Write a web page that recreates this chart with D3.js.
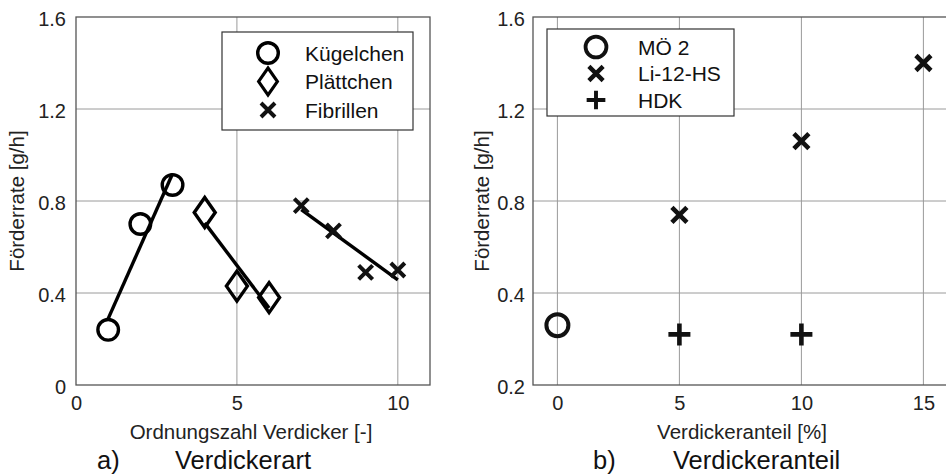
<!DOCTYPE html>
<html>
<head>
<meta charset="utf-8">
<script src="https://cdn.jsdelivr.net/npm/d3@7"></script>
<style>
  body { margin: 0; background: #fff; }
  svg { display: block; font-family: "Liberation Sans", Arial, sans-serif; }
</style>
</head>
<body>
<svg id="chart" width="946" height="474"></svg>
<script>
// Panel a): delivery rate by thickener type
const typeNames = ["Kügelchen", "Plättchen", "Fibrillen"];
const kugelX = [1, 2, 3];
const kugelY = [0.24, 0.70, 0.87];
const plattX = [4, 5, 6];
const plattY = [0.75, 0.43, 0.38];
const fibX = [7, 8, 9, 10];
const fibY = [0.78, 0.67, 0.49, 0.50];
const aXTicks = [0, 5, 10];
const aYTicks = [0, 0.4, 0.8, 1.2, 1.6];

// Panel b): delivery rate by thickener content
const greaseNames = ["MÖ 2", "Li-12-HS", "HDK"];
const moX = [0];
const moY = [0.33];
const liX = [5, 10, 15];
const liY = [0.74, 1.06, 1.40];
const hdkX = [5, 10];
const hdkY = [0.31, 0.31];
const bXTicks = [0, 5, 10, 15];
const bYTicks = [0.2, 0.4, 0.8, 1.2, 1.6];

const svg = d3.select("#chart");
const zip = (xs, ys) => xs.map((x, i) => ({ x, y: ys[i] }));
const FONT = "Liberation Sans, Arial, sans-serif";

// marker outlines, centred on the origin
const markers = {
  circle: g => g.append("circle").attr("r", 10.3).attr("fill", "none").attr("stroke", "#000").attr("stroke-width", 3.4),
  circleB: g => g.append("circle").attr("r", 11).attr("fill", "none").attr("stroke", "#111").attr("stroke-width", 4),
  diamond: g => g.append("path").attr("d", "M0,-15L10.5,0L0,15L-10.5,0Z").attr("fill", "none").attr("stroke", "#000").attr("stroke-width", 3.4).attr("stroke-linejoin", "miter"),
  cross: g => g.append("path").attr("d", "M-7,-7L7,7M-7,7L7,-7").attr("stroke", "#111").attr("stroke-width", 4),
  crossB: g => g.append("path").attr("d", "M-7.5,-7.5L7.5,7.5M-7.5,7.5L7.5,-7.5").attr("stroke", "#111").attr("stroke-width", 4.6),
  plus: g => g.append("path").attr("d", "M-11,0L11,0M0,-11L0,11").attr("stroke", "#111").attr("stroke-width", 4.6)
};

function fitLine(pts) {
  const mx = d3.mean(pts, d => d.x), my = d3.mean(pts, d => d.y);
  const b = d3.sum(pts, d => (d.x - mx) * (d.y - my)) / d3.sum(pts, d => (d.x - mx) ** 2);
  const a = my - b * mx;
  const [x0, x1] = d3.extent(pts, d => d.x);
  return [{ x: x0, y: a + b * x0 }, { x: x1, y: a + b * x1 }];
}

function panel(opt) {
  const { x, y, xTicks, yTicks } = opt;
  const g = svg.append("g");
  const [x0, x1] = x.range();
  const [y0, y1] = [y(y.domain()[0]), y(y.domain()[y.domain().length - 1])];
  const clipId = "clip" + opt.id;
  svg.append("clipPath").attr("id", clipId)
    .append("rect").attr("x", x0).attr("y", y1 - 20).attr("width", x1 - x0).attr("height", y0 - y1 + 20);

  // grid
  const grid = g.append("g").attr("stroke", "#9a9a9a").attr("stroke-width", 1);
  grid.selectAll(".gx").data(xTicks.filter(t => x(t) > x0 + 1 && x(t) < x1 - 1)).join("line")
    .attr("x1", d => x(d)).attr("x2", d => x(d)).attr("y1", y0).attr("y2", y1);
  grid.selectAll(".gy").data(yTicks.filter(t => y(t) < y0 - 1 && y(t) > y1 + 1)).join("line")
    .attr("x1", x0).attr("x2", x1).attr("y1", d => y(d)).attr("y2", d => y(d));

  // frame
  g.append("rect").attr("x", x0).attr("y", y1).attr("width", x1 - x0).attr("height", y0 - y1)
    .attr("fill", "none").attr("stroke", "#555").attr("stroke-width", 1.3);

  // tick labels via d3 axes (labels only)
  const ax = g.append("g").attr("transform", `translate(0,${y0})`)
    .call(d3.axisBottom(x).tickValues(xTicks).tickSize(0).tickPadding(11).tickFormat(d3.format("d")));
  const ay = g.append("g").attr("transform", `translate(${x0},0)`)
    .call(d3.axisLeft(y).tickValues(yTicks).tickSize(0).tickPadding(opt.yPad).tickFormat(d => String(d)));
  [ax, ay].forEach(a => {
    a.select(".domain").remove();
    a.attr("font-size", 20).attr("font-family", FONT);
    a.selectAll("text").attr("font-size", 20).attr("fill", "#222");
  });
  ax.selectAll("text").attr("dy", "0.71em");
  ay.selectAll("text").attr("dy", "0.4em");

  g.append("text").attr("transform", `translate(${opt.yLabelX},${(y0 + y1) / 2}) rotate(-90)`)
    .attr("text-anchor", "middle").attr("dy", "0.35em").attr("font-size", 20.5).attr("fill", "#222").text("Förderrate [g/h]");
  g.append("text").attr("x", opt.xLabelCX).attr("y", 439)
    .attr("text-anchor", "middle").attr("font-size", 20.5).attr("fill", "#222").text(opt.xLabel);
  g.append("text").attr("x", opt.capX).attr("y", 469).attr("font-size", 25.5).attr("fill", "#111").text(opt.capA);
  g.append("text").attr("x", opt.capX + opt.capGap).attr("y", 469).attr("font-size", 25.5).attr("fill", "#111").text(opt.capB);

  const plot = g.append("g").attr("clip-path", `url(#${clipId})`);
  return { g, plot };
}

// ---- panel a ----
const xa = d3.scaleLinear().domain([0, 11]).range([76, 430]);
const ya = d3.scaleLinear().domain([0, 1.6]).range([385, 17]);
const pa = panel({ id: "a", x: xa, y: ya, xTicks: aXTicks, yTicks: aYTicks, yPad: 10,
  yLabelX: 17, xLabelCX: 251, xLabel: "Ordnungszahl Verdicker [-]", capX: 97, capGap: 78, capA: "a)", capB: "Verdickerart" });

const seriesA = [
  { pts: zip(kugelX, kugelY), m: "circle" },
  { pts: zip(plattX, plattY), m: "diamond" },
  { pts: zip(fibX, fibY), m: "cross" }
];
const line = d3.line().x(d => xa(d.x)).y(d => ya(d.y));
seriesA.forEach(s => {
  pa.plot.append("path").attr("d", line(fitLine(s.pts))).attr("fill", "none")
    .attr("stroke", "#000").attr("stroke-width", 3.4);
});
seriesA.forEach(s => {
  s.pts.forEach(p => markers[s.m](pa.plot.append("g").attr("transform", `translate(${xa(p.x)},${ya(p.y)})`)));
});

// legend a
const la = pa.g.append("g");
la.append("rect").attr("x", 222).attr("y", 32).attr("width", 191).attr("height", 98)
  .attr("fill", "#fff").attr("stroke", "#333").attr("stroke-width", 1.2);
["circle", "diamond", "cross"].forEach((m, i) => {
  const cy = 53 + i * 28.5;
  const mg = la.append("g").attr("transform", `translate(268,${cy})` + (m === "diamond" ? " scale(0.9)" : ""));
  markers[m](mg);
  la.append("text").attr("x", 305).attr("y", cy).attr("dy", "0.36em").attr("font-size", 21).attr("fill", "#111").text(typeNames[i]);
});

// ---- panel b ----
const xb = d3.scaleLinear().domain([-1, 16.5]).range([533, 960]);
const yb = d3.scaleLinear().domain([0.2, 0.4, 1.6]).range([385, 293, 17]);
const pb = panel({ id: "b", x: xb, y: yb, xTicks: bXTicks, yTicks: bYTicks, yPad: 8,
  yLabelX: 482, xLabelCX: 742, xLabel: "Verdickeranteil [%]", capX: 593, capGap: 80, capA: "b)", capB: "Verdickeranteil" });

[
  { pts: zip(moX, moY), m: "circleB" },
  { pts: zip(liX, liY), m: "crossB" },
  { pts: zip(hdkX, hdkY), m: "plus" }
].forEach(s => {
  s.pts.forEach(p => markers[s.m](pb.plot.append("g").attr("transform", `translate(${xb(p.x)},${yb(p.y)})`)));
});

// legend b
const lb = pb.g.append("g");
lb.append("rect").attr("x", 547).attr("y", 29).attr("width", 187).attr("height", 87)
  .attr("fill", "#fff").attr("stroke", "#333").attr("stroke-width", 1.2);
["circleB", "crossB", "plus"].forEach((m, i) => {
  const cy = 47 + i * 26.5;
  const mg = lb.append("g").attr("transform", `translate(596,${cy})` + (m === "plus" ? " scale(0.85)" : " scale(0.95)"));
  markers[m](mg);
  lb.append("text").attr("x", 638).attr("y", cy).attr("dy", "0.36em").attr("font-size", 21).attr("fill", "#111").text(greaseNames[i]);
});
</script>
</body>
</html>
